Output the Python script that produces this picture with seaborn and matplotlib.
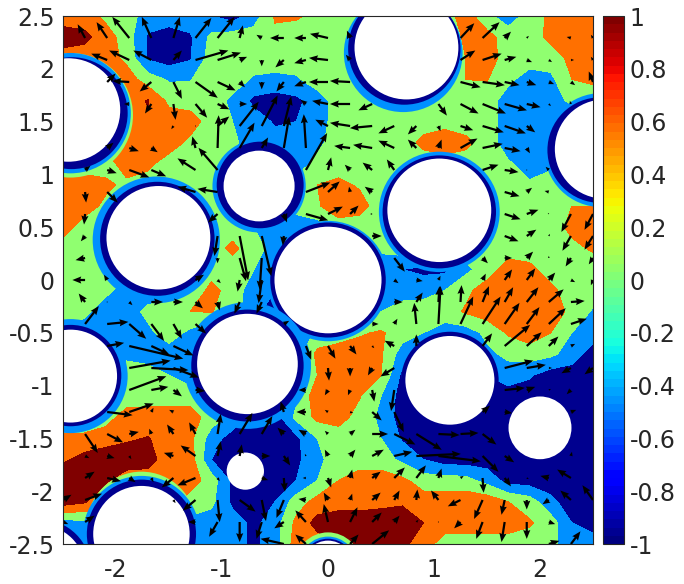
import numpy as np
import matplotlib
matplotlib.use("Agg")
import matplotlib.pyplot as plt
from matplotlib.colors import Normalize
from matplotlib.cm import ScalarMappable
from matplotlib.patches import Circle
import seaborn as sns

# Field sampled every 0.2, rows from y=2.5 down to y=-2.5
field = [
    [.4,.4,.1,0,-.4,-.4,-.4,-.6,-.8,-.4,.25,.25,.1,0,0,0,0,0,0,.4,-.1,-.4,-.05,.3,.4,.4],
    [.8,.7,.4,0,-.65,-.8,-.65,-.1,0,0,.1,0,0,0,0,0,0,0,0,.25,.35,0,0,.3,.4,.4],
    [.4,.4,.4,.1,-.65,-.8,-.65,0,0,0,0,0,0,0,0,0,0,0,0,.2,.4,0,0,0,.3,.4],
    [.4,.4,.4,.4,0,-.25,-.22,0,0,-.25,-.3,-.25,0,0,0,0,0,0,0,.2,.22,-.1,-.4,-.3,.2,.4],
    [.4,.4,.4,.45,.62,.1,0,0,-.3,-.7,-.8,-.7,-.4,0,0,0,0,0,0,0,0,-.4,-.4,-.4,-.1,-.4],
    [.4,.4,.4,.45,.55,.4,.4,0,-.2,-.4,-.65,-.6,-.4,0,0,0,0,.03,.05,0,0,-.4,-.4,-.4,-.6,-.6],
    [.4,.4,.4,.4,.4,.4,.1,0,-.1,-.45,-.45,-.4,-.3,0,0,0,0,.3,.45,.3,0,-.4,-.4,-.6,-.6,-.6],
    [0,0,0,.4,.3,0,0,0,-.3,-.5,-.5,-.4,-.1,0,0,0,0,0,0,0,0,-.15,-.35,-.3,-.5,-.5],
    [.4,.4,.3,.1,0,0,0,0,0,0,0,0,.2,.3,.15,0,0,0,0,0,0,0,-.15,0,0,0],
    [.4,.4,.1,0,0,0,0,0,0,0,0,0,.15,.45,.35,0,0,0,0,0,0,0,0,.05,.2,.2],
    [.4,0,0,0,0,0,0,0,0,-.2,-.4,-.5,-.4,0,0,0,0,0,0,0,0,0,0,0,.3,.4],
    [0,0,0,0,0,0,0,0,.3,-.05,-.35,-.6,-.6,-.6,-.6,-.1,0,0,0,0,0,0,0,0,.1,.25],
    [0,0,0,0,0,0,0,0,0,-.2,-.6,-.6,-.6,-.6,-.6,-.5,-.6,-.7,-.7,-.3,0,.4,.3,0,0,0],
    [0,0,-.1,-.4,-.4,-.4,-.2,.35,0,-.4,-.6,-.6,-.6,-.6,-.6,-.4,-.4,-.35,-.2,.1,.4,.45,.45,.3,0,0],
    [0,-.1,-.4,-.4,-.1,0,.2,.22,0,-.5,-.8,-.7,-.5,-.4,-.4,-.2,0,0,0,.25,.4,.45,.45,.4,.1,-.25],
    [-.4,-.4,-.4,-.4,-.3,0,-.3,-.6,-.6,-.6,-.6,-.7,-.1,0,.15,.25,0,-.2,-.4,-.4,-.1,.25,.4,.2,-.2,-.4],
    [-.4,-.4,-.4,-.25,-.4,-.4,-.5,-.6,-.6,-.6,-.6,-.4,.3,.4,.4,.25,-.4,-.6,-.6,-.5,-.3,-.1,0,-.1,-.4,-.8],
    [-.4,-.4,-.4,-.1,0,-.2,-.4,-.6,-.6,-.6,-.6,-.4,.2,.4,.4,.2,-.7,-.8,-.8,-.8,-.6,-.4,-.55,-.8,-.8,-.8],
    [-.4,-.4,-.4,-.05,0,0,0,-.5,-.6,-.6,-.8,-.3,.5,.4,.22,-.2,-.8,-.8,-.8,-.8,-.8,-.8,-.8,-.8,-.8,-.8],
    [-.4,-.4,0,.4,.4,.4,.4,0,-.3,-.8,-.8,-.1,.3,.35,.05,-.3,-.8,-.8,-.8,-.8,-.8,-.8,-.8,-.8,-.8,-.8],
    [.4,.4,.45,.55,.62,.45,.3,-.4,-.8,-.8,-.8,-.7,-.2,0,0,-.2,-.65,-.8,-.8,-.8,-.8,-.8,-.8,-.8,-.8,-.8],
    [.55,.7,.8,.8,.75,.4,.4,-.6,-.8,-.8,-.8,-.7,-.3,0,0,0,-.3,-.6,-.8,-.8,-.8,-.8,-.8,-.8,-.8,-.8],
    [.8,.8,.65,.4,.4,.4,.4,0,-.7,-.8,-.8,-.6,-.2,.2,.4,.4,.3,0,0,-.05,-.35,-.75,-.8,-.8,-.8,-.8],
    [.8,.65,.3,.4,.4,.4,0,-.1,-.7,-.8,-.6,0,.35,.45,.45,.5,.55,.4,.4,.45,.45,.2,0,-.5,-.8,-.8],
    [-.4,-.3,0,0,0,0,-.3,-.4,-.4,-.7,-.4,.3,.75,.8,.8,.8,.8,.6,.4,.4,.4,.4,.25,0,-.6,-.8],
    [-.8,-.6,-.6,-.6,-.6,-.6,-.6,-.4,-.4,-.7,-.4,.4,.4,.6,.8,.8,.7,.4,0,0,0,0,0,-.1,-.4,-.4],
]
levels = [-1, -.6, -.2, .2, .6, 1]
level_colors = ["#00008f", "#0090ff", "#90ff70", "#ff7000", "#800000"]

# Inclusions: hole, dark ring, blue ring, green ring (r=0 means no ring)
hole_x = [.74, -2.45, 2.61, -.65, -1.6, 1.05, 0, -.76, -2.43, 1.15, 2.0, -.78, -1.76, -2.72, 0]
hole_y = [2.2, 1.61, 1.24, .89, .4, .66, 0, -.795, -.91, -.95, -1.4, -1.81, -2.405, -2.75, -2.7]
hole_r = [.49, .49, .47, .335, .49, .49, .505, .475, .44, .42, .297, .176, .455, .43, .232]
dark_x = [.72, -2.42, 2.57, -.64, -1.61, 1.05, 0, -.76, -2.43, 1.15, 2.0, -.78, -1.76, -2.72, 0]
dark_y = [2.19, 1.58, 1.23, .9, .39, .645, 0, -.81, -.905, -.95, -1.4, -1.81, -2.405, -2.75, -2.7]
dark_r = [.53, .53, .5, .41, .54, .535, .545, .53, .48, .46, 0, 0, .515, .485, .25]
blue_x = [.71, -2.43, 2.58, -.65, -1.62, 1.05, 0, -.76, -2.43, 1.15, 2.0, -.78, -1.76, -2.72, 0]
blue_y = [2.15, 1.58, 1.23, .89, .38, .645, -.01, -.81, -.91, -.9, -1.4, -1.81, -2.405, -2.75, -2.7]
blue_r = [.56, .57, .54, .44, .6, .57, .57, .6, .54, .455, 0, 0, .55, 0, .27]
green_x = [0, -2.43, 0, 0, 0, 0, 0, 0, 0, 0, 0, 0, -1.76, 0, 0]
green_y = [0, 1.56, 0, 0, 0, 0, 0, 0, 0, 0, 0, 0, -2.33, 0, -2.7]
green_r = [0, .59, 0, 0, 0, 0, 0, 0, 0, 0, 0, 0, .515, 0, .31]

# Arrow components in hundredths, 25 x 25 rows from y=2.5 to y=-2.5
arrow_u = [
    [0]*25,
    [0,-7,-10,-16,-9,6,15,16,3,-5,-13,-11,-17,-3,0,0,0,0,13,16,6,2,0,-4,-2],
    [0,0,-15,-19,-17,8,31,22,7,0,-8,-11,-18,-4,0,0,0,0,14,18,11,5,3,3,-2],
    [0,0,8,-16,-11,8,21,17,5,0,-7,-11,-18,-19,0,0,0,0,19,21,14,9,5,4,-4],
    [0,0,0,-5,-6,2,11,11,7,0,0,-5,-15,-19,-13,0,0,8,17,22,21,13,2,-1,0],
    [0,0,0,0,0,-2,1,11,18,15,7,0,-12,-19,-21,-15,-8,2,12,20,20,8,0,0,0],
    [0,0,6,9,6,0,-3,1,14,6,5,-2,0,-15,-18,-15,-8,3,16,19,15,3,0,0,0],
    [0,5,9,19,14,0,-17,-18,0,0,0,20,3,-5,-9,-7,0,0,0,15,13,1,-3,0,0],
    [0,1,10,0,0,0,-17,-19,0,0,0,23,11,-1,-7,0,0,0,0,0,14,5,-4,0,0],
    [0,-1,0,0,0,0,0,-9,0,0,3,21,14,8,-2,0,0,0,0,0,15,11,-1,-9,-8],
    [0,-4,0,0,0,0,0,-3,8,9,-1,0,0,0,9,0,0,0,0,0,13,9,1,-8,-8],
    [0,-9,0,0,0,0,0,0,6,-2,0,0,0,0,0,10,0,0,0,5,7,6,0,-5,-4],
    [0,-12,-3,0,0,0,8,3,-2,-3,0,0,0,0,0,4,6,2,0,3,7,8,6,4,-2],
    [0,-6,1,3,11,9,7,2,-5,-5,0,0,0,0,0,8,6,1,1,6,8,11,14,13,0],
    [0,13,20,16,12,8,10,0,0,0,5,0,0,0,6,3,-2,2,12,17,14,12,16,15,0],
    [0,0,16,51,17,19,0,0,0,0,0,5,7,6,2,-9,0,0,0,9,24,14,9,4,0],
    [0,0,0,39,35,24,0,0,0,0,0,0,1,0,-4,-13,0,0,0,0,27,18,3,-9,-8],
    [0,0,0,35,16,8,9,0,0,0,0,-7,-3,-2,2,-3,0,0,0,0,19,8,2,-4,0],
    [0,0,24,23,2,-4,0,0,0,0,-3,-9,-3,3,9,9,0,0,0,7,7,0,0,5,0],
    [0,12,15,9,-2,-6,-6,3,12,10,-6,-7,-3,5,15,20,24,20,17,13,0,0,0,0,0],
    [0,4,7,2,0,-9,-14,3,2,8,6,-1,-3,5,11,17,42,40,0,15,9,0,0,1,0],
    [0,9,13,6,2,-11,-17,2,0,6,1,-3,3,2,8,10,9,3,3,1,6,2,-8,-13,0],
    [8,16,0,0,0,2,-12,2,15,4,-7,-7,-4,2,8,5,1,-7,-12,-8,-3,0,-6,-10,-10],
    [5,9,0,0,0,0,-7,-8,0,-5,-9,-10,-4,7,9,5,2,1,-6,-6,-3,0,6,0,0],
    [0,0,0,0,0,0,0,0,0,0,-22,-10,0,8,16,0,0,0,0,0,0,0,10,9,0],
]
arrow_v = [
    [0]*25,
    [0,13,15,20,20,20,19,20,12,3,0,0,4,7,0,0,0,0,14,15,6,2,0,1,3],
    [0,0,6,9,9,9,9,7,3,-6,-7,-3,2,5,0,0,0,0,9,6,3,-2,-2,0,3],
    [0,0,8,1,-9,-16,-15,-8,-5,-7,-9,-4,0,1,0,0,0,0,-5,-3,-3,-3,-2,-3,10],
    [0,0,0,0,-9,-15,-13,-5,0,0,0,4,3,0,-6,0,0,-11,-9,-9,-6,-3,-2,3,0],
    [0,0,0,0,0,-3,0,9,23,29,28,0,6,3,-2,-7,-8,-5,-4,-6,-7,-6,0,0,0],
    [0,0,5,-3,-4,0,11,31,24,10,30,32,0,2,3,7,8,8,9,4,-3,-5,0,0,0],
    [0,4,-3,-7,-6,0,11,21,0,0,0,35,12,5,7,10,0,0,0,5,-2,0,3,0,0],
    [0,-10,-10,0,0,0,5,3,0,0,0,9,10,5,5,0,0,0,0,0,-4,4,1,0,0],
    [0,-10,0,0,0,0,0,-8,0,0,-8,-6,7,8,0,0,0,0,0,0,-5,4,1,-17,-15],
    [0,-5,0,0,0,0,0,-19,-42,-38,-9,0,0,0,0,0,0,0,0,0,-5,6,2,-14,-13],
    [0,-2,0,0,0,0,0,-5,-22,-30,0,0,0,0,0,-13,0,0,0,-5,0,6,2,-8,-6],
    [0,0,5,0,0,0,5,-3,-11,-22,0,0,0,0,0,-3,-1,4,0,6,10,11,7,-2,-5],
    [0,8,0,-3,0,0,-6,-8,-11,-11,0,0,0,0,0,0,9,15,16,15,14,14,12,1,0],
    [0,17,2,-14,-16,-14,-9,0,0,0,3,0,0,0,0,5,20,36,26,26,20,16,15,5,0],
    [0,0,3,-12,-8,-9,0,0,0,0,0,-13,-12,-8,-2,5,11,0,0,12,20,13,9,2,0],
    [0,0,0,7,-2,-9,0,0,0,0,0,0,-12,-8,-7,-8,0,0,0,0,7,3,0,-5,-6],
    [0,0,0,13,3,-6,-1,0,0,0,0,0,-5,-5,-11,-20,0,0,0,0,2,3,1,-4,0],
    [0,0,-3,8,4,2,0,0,0,0,10,0,2,-1,-8,-19,0,0,0,6,-1,0,0,2,0],
    [0,-18,-8,2,5,9,11,19,20,17,6,4,3,4,0,-10,-15,-1,1,-10,0,0,0,0,0],
    [0,-2,-2,-3,0,3,10,14,11,0,-9,2,6,6,6,4,2,-5,0,-15,-6,0,0,4,0],
    [0,6,-3,-4,-4,-9,-7,-3,0,-2,-13,0,-9,8,6,10,12,9,2,-14,-8,-1,2,8,0],
    [5,6,0,0,0,-3,-10,-21,-11,-20,-17,1,7,6,7,9,10,9,-6,-18,-14,-9,-4,9,14],
    [-2,6,0,0,0,0,0,-14,-19,-16,-6,11,17,14,9,6,2,0,-6,-16,-19,-16,-2,0,0],
    [0,0,0,0,0,0,0,0,0,0,5,9,0,9,13,0,0,0,0,0,0,0,3,12,0],
]
xticks = [-2, -1, 0, 1, 2]
yticks = [-2.5, -2, -1.5, -1, -0.5, 0, 0.5, 1, 1.5, 2, 2.5]
cticks = [-1, -0.8, -0.6, -0.4, -0.2, 0, 0.2, 0.4, 0.6, 0.8, 1]

sns.set_theme(style="ticks", font="DejaVu Sans", rc={"axes.unicode_minus": False})
text_color = "#262626"

fig = plt.figure(figsize=(6.84, 5.84), dpi=100)
ax = fig.add_axes([63/684, 40/584, 530/684, 528/584])
cax = fig.add_axes([603/684, 40/584, 21/684, 528/584])

# Filled contours
gx = np.linspace(-2.5, 2.5, 26)
gy = np.linspace(2.5, -2.5, 26)
ax.contourf(gx, gy, np.array(field), levels=levels, colors=level_colors, zorder=1)

# Rings and holes
for i in range(len(hole_x)):
    if green_r[i] > 0:
        ax.add_patch(Circle((green_x[i], green_y[i]), green_r[i], color=level_colors[2], lw=0, zorder=2))
    if blue_r[i] > 0:
        ax.add_patch(Circle((blue_x[i], blue_y[i]), blue_r[i], color=level_colors[1], lw=0, zorder=2))
    if dark_r[i] > 0:
        ax.add_patch(Circle((dark_x[i], dark_y[i]), dark_r[i], color=level_colors[0], lw=0, zorder=2))
for i in range(len(hole_x)):
    ax.add_patch(Circle((hole_x[i], hole_y[i]), hole_r[i], color="white", lw=0, zorder=3))

# Arrows
qx = np.linspace(-2.5, 2.5, 25)
qy = np.linspace(2.5, -2.5, 25)
QX, QY = np.meshgrid(qx, qy)
U = np.array(arrow_u) / 100
V = np.array(arrow_v) / 100
mask = (U == 0) & (V == 0)
ax.quiver(QX, QY, np.ma.array(U, mask=mask), np.ma.array(V, mask=mask),
          angles="xy", scale_units="xy", scale=1, color="black", width=0.0042,
          headwidth=3.2, headlength=4, headaxislength=3.6, minlength=0.5, zorder=4)

ax.set_xlim(-2.5, 2.5)
ax.set_ylim(-2.5, 2.5)
ax.set_xticks(xticks)
ax.set_xticklabels([str(t) for t in xticks])
ax.set_yticks(yticks)
ax.set_yticklabels([f"{t:g}" for t in yticks])
ax.tick_params(direction="in", length=5, width=0.7, top=True, right=True, labelsize=17,
               labelcolor=text_color, pad=6)
ax.tick_params(axis="x", pad=10)
for s in ax.spines.values():
    s.set_linewidth(0.8)
    s.set_color("#262626")
    s.set_zorder(6)

# Colorbar, jet split in 64 steps
jet = plt.get_cmap("jet").resampled(64)
cb = fig.colorbar(ScalarMappable(norm=Normalize(-1, 1), cmap=jet), cax=cax)
cb.set_ticks(cticks)
cb.set_ticklabels([f"{t:g}" for t in cticks])
cb.ax.tick_params(direction="in", length=4, width=0.7, labelsize=17, labelcolor=text_color, pad=4)
cb.outline.set_linewidth(0.8)

fig.savefig("out.png", dpi=100)
